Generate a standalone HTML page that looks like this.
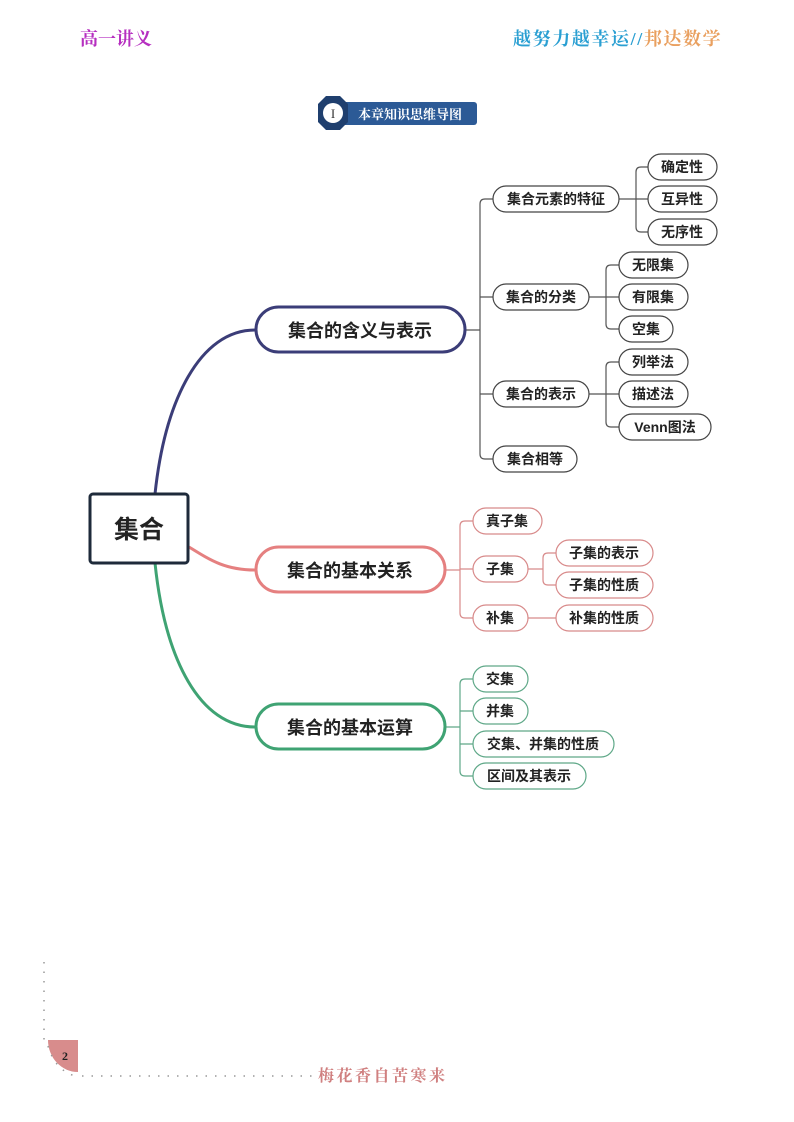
<!DOCTYPE html>
<html><head><meta charset="utf-8"><style>
html,body{margin:0;padding:0;background:#fff;}
svg{display:block;}
text{font-family:"Liberation Sans","Noto Sans CJK SC",sans-serif;}
.s{font-family:"Liberation Serif","Noto Serif CJK SC",serif;}
</style></head><body>
<svg width="794" height="1122" viewBox="0 0 794 1122" xmlns="http://www.w3.org/2000/svg">
<!-- header -->
<text x="80" y="45" class="s" font-size="18" font-weight="bold" fill="#b62fc0">高一讲义</text>
<text x="513" y="45" class="s" font-size="18" font-weight="bold" fill="#2a9fd2" letter-spacing="1.6">越努力越幸运//<tspan fill="#e9a060">邦达数学</tspan></text>

<!-- title badge -->
<rect x="340" y="102" width="137" height="23" rx="3" fill="#2c5a96"/>
<polygon points="326,96 340,96 348,104 348,122 340,130 326,130 318,122 318,104" fill="#1f3f6e"/>
<circle cx="333" cy="113" r="10" fill="#fff"/>
<text x="333" y="118" class="s" font-size="13" text-anchor="middle" fill="#333">I</text>
<text x="358" y="119" class="s" font-size="13" font-weight="bold" fill="#fff">本章知识思维导图</text>

<!-- main curves -->
<path d="M155,494 C165,400 200,330 255,330" fill="none" stroke="#3b3d78" stroke-width="3"/>
<path d="M189,547 C210,560 225,570 255,570" fill="none" stroke="#e58080" stroke-width="3"/>
<path d="M155,563 C165,660 200,727 255,727" fill="none" stroke="#3fa373" stroke-width="3"/>

<!-- central -->
<rect x="90" y="494" width="98" height="69" rx="3" fill="#fff" stroke="#1e2a3a" stroke-width="3"/>
<text x="139" y="538" font-size="25" font-weight="bold" text-anchor="middle" fill="#222">集合</text>

<!-- branch 1 -->
<g fill="none" stroke="#555" stroke-width="1.2">
<path d="M466,330 H480 M480,204 Q480,199 485,199 H493 M480,204 V454 Q480,459 485,459 H493 M480,297 H493 M480,394 H493"/>
<path d="M619,199 H636 M636,172 Q636,167 641,167 H648 M636,172 V227 Q636,232 641,232 H648 M636,199 H648"/>
<path d="M589,297 H606 M606,270 Q606,265 611,265 H619 M606,270 V324 Q606,329 611,329 H619 M606,297 H619"/>
<path d="M589,394 H606 M606,367 Q606,362 611,362 H619 M606,367 V422 Q606,427 611,427 H619 M606,394 H619"/>
</g>
<rect x="256" y="307" width="209" height="45" rx="22.5" fill="#fff" stroke="#3b3d78" stroke-width="3"/>
<text x="360" y="337" font-size="18" font-weight="bold" text-anchor="middle" fill="#222">集合的含义与表示</text>
<g fill="#fff" stroke="#444" stroke-width="1.2">
<rect x="493" y="186" width="126" height="26" rx="13"/>
<rect x="493" y="284" width="96" height="26" rx="13"/>
<rect x="493" y="381" width="96" height="26" rx="13"/>
<rect x="493" y="446" width="84" height="26" rx="13"/>
<rect x="648" y="154" width="69" height="26" rx="13"/>
<rect x="648" y="186" width="69" height="26" rx="13"/>
<rect x="648" y="219" width="69" height="26" rx="13"/>
<rect x="619" y="252" width="69" height="26" rx="13"/>
<rect x="619" y="284" width="69" height="26" rx="13"/>
<rect x="619" y="316" width="54" height="26" rx="13"/>
<rect x="619" y="349" width="69" height="26" rx="13"/>
<rect x="619" y="381" width="69" height="26" rx="13"/>
<rect x="619" y="414" width="92" height="26" rx="13"/>
</g>
<g font-size="14" font-weight="bold" fill="#222" text-anchor="middle">
<text x="556" y="204">集合元素的特征</text>
<text x="541" y="302">集合的分类</text>
<text x="541" y="399">集合的表示</text>
<text x="535" y="464">集合相等</text>
<text x="682" y="172">确定性</text>
<text x="682" y="204">互异性</text>
<text x="682" y="237">无序性</text>
<text x="653" y="270">无限集</text>
<text x="653" y="302">有限集</text>
<text x="646" y="334">空集</text>
<text x="653" y="367">列举法</text>
<text x="653" y="399">描述法</text>
<text x="665" y="432">Venn图法</text>
</g>

<!-- branch 2 -->
<g fill="none" stroke="#d88a8a" stroke-width="1.2">
<path d="M445,570 H460 M460,526 Q460,521 465,521 H473 M460,526 V613 Q460,618 465,618 H473 M460,569 H473"/>
<path d="M528,569 H543 M543,558 Q543,553 548,553 H556 M543,558 V580 Q543,585 548,585 H556"/>
<path d="M528,618 H556"/>
</g>
<rect x="256" y="547" width="189" height="45" rx="22.5" fill="#fff" stroke="#e58080" stroke-width="3"/>
<text x="350" y="577" font-size="18" font-weight="bold" text-anchor="middle" fill="#222">集合的基本关系</text>
<g fill="#fff" stroke="#d88a8a" stroke-width="1.2">
<rect x="473" y="508" width="69" height="26" rx="13"/>
<rect x="473" y="556" width="55" height="26" rx="13"/>
<rect x="473" y="605" width="55" height="26" rx="13"/>
<rect x="556" y="540" width="97" height="26" rx="13"/>
<rect x="556" y="572" width="97" height="26" rx="13"/>
<rect x="556" y="605" width="97" height="26" rx="13"/>
</g>
<g font-size="14" font-weight="bold" fill="#222" text-anchor="middle">
<text x="507" y="526">真子集</text>
<text x="500" y="574">子集</text>
<text x="500" y="623">补集</text>
<text x="604" y="558">子集的表示</text>
<text x="604" y="590">子集的性质</text>
<text x="604" y="623">补集的性质</text>
</g>

<!-- branch 3 -->
<g fill="none" stroke="#5fa888" stroke-width="1.2">
<path d="M445,727 H460 M460,684 Q460,679 465,679 H473 M460,684 V771 Q460,776 465,776 H473 M460,711 H473 M460,744 H473"/>
</g>
<rect x="256" y="704" width="189" height="45" rx="22.5" fill="#fff" stroke="#3fa373" stroke-width="3"/>
<text x="350" y="734" font-size="18" font-weight="bold" text-anchor="middle" fill="#222">集合的基本运算</text>
<g fill="#fff" stroke="#5fa888" stroke-width="1.2">
<rect x="473" y="666" width="55" height="26" rx="13"/>
<rect x="473" y="698" width="55" height="26" rx="13"/>
<rect x="473" y="731" width="141" height="26" rx="13"/>
<rect x="473" y="763" width="113" height="26" rx="13"/>
</g>
<g font-size="14" font-weight="bold" fill="#222" text-anchor="middle">
<text x="500" y="684">交集</text>
<text x="500" y="716">并集</text>
<text x="543" y="749">交集、并集的性质</text>
<text x="529" y="781">区间及其表示</text>
</g>

<!-- footer -->
<line x1="44" y1="962" x2="44" y2="1040" stroke="#999" stroke-width="1.5" stroke-dasharray="1.5,8"/>
<path d="M48,1040 H78 V1072 A30,32 0 0 1 48,1040 Z" fill="#d88c8c"/>
<text x="65" y="1060" class="s" font-size="12" font-weight="bold" text-anchor="middle" fill="#222">2</text>
<path d="M48,1046 Q55,1070 75,1076" fill="none" stroke="#999" stroke-width="1.5" stroke-dasharray="1.5,8"/>
<line x1="82" y1="1076" x2="312" y2="1076" stroke="#999" stroke-width="1.5" stroke-dasharray="1.5,8"/>
<text x="318" y="1081" class="s" font-size="16" font-weight="bold" fill="#d08080" letter-spacing="2.5">梅花香自苦寒来</text>
</svg>
</body></html>
